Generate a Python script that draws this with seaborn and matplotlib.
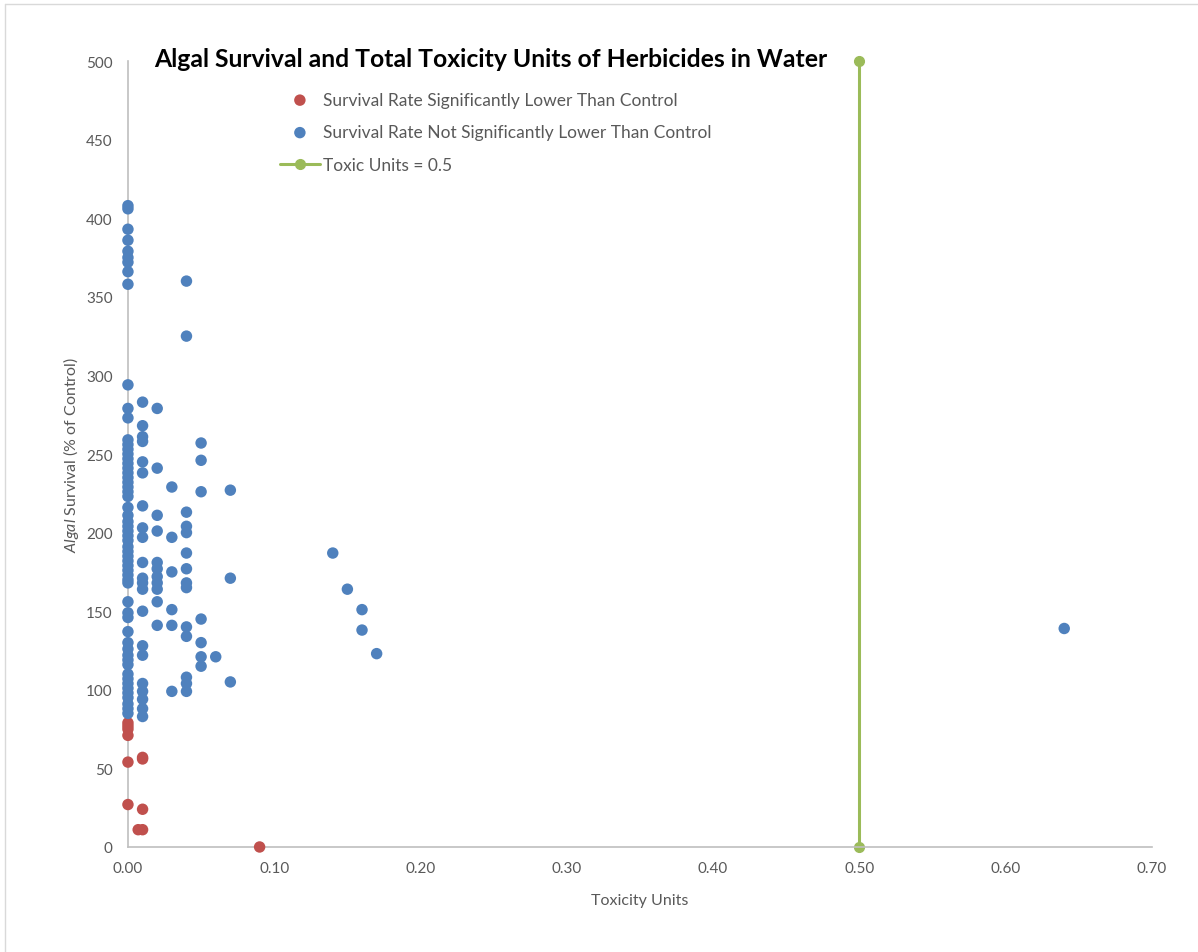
import numpy as np
import pandas as pd
import matplotlib
matplotlib.use("Agg")
import matplotlib.pyplot as plt
import seaborn as sns
from matplotlib.lines import Line2D

sns.set_theme(style="white")
plt.rcParams["font.family"] = ["Lato", "DejaVu Sans"]
plt.rcParams["mathtext.fontset"] = "custom"
plt.rcParams["mathtext.it"] = "Lato:italic"
plt.rcParams["mathtext.rm"] = "Lato"

# =============================
# DATA
# =============================

# significantly lower than control (red)
red_tu = [0.00, 0.00, 0.00, 0.00, 0.00, 0.00, 0.007, 0.01, 0.01, 0.01, 0.01, 0.09]
red_surv = [79, 77, 75, 71, 54, 27, 11, 57, 56, 24, 11, 0]

# not significantly lower than control (blue), one list per toxicity level
surv_tu000 = [408, 406, 393, 386, 379, 375, 372, 366, 358, 294, 279, 273,
              259, 256, 253, 250, 247, 244, 241, 238, 235, 232, 229, 226, 223,
              216, 211, 207, 204, 201, 198, 195, 191, 188, 185, 182, 179, 176,
              173, 170, 168, 156, 149, 146, 137, 130, 126, 122, 119, 116, 110,
              107, 104, 101, 98, 95, 91, 88, 85]
surv_tu001 = [283, 268, 261, 258, 245, 238, 217, 203, 197, 181, 171, 168,
              164, 150, 128, 122, 104, 99, 94, 88, 83]
surv_tu002 = [279, 241, 211, 201, 181, 177, 172, 168, 164, 156, 141]
surv_tu003 = [229, 197, 175, 151, 141, 99]
surv_tu004 = [360, 325, 213, 204, 200, 187, 177, 168, 165, 140, 134, 108, 104, 99]
surv_tu005 = [257, 246, 226, 145, 130, 121, 115]
surv_tu006 = [121]
surv_tu007 = [227, 171, 105]
other_tu = [0.14, 0.15, 0.16, 0.16, 0.17, 0.64]
other_surv = [187, 164, 151, 138, 123, 139]

blue_tu = ([0.00] * len(surv_tu000) + [0.01] * len(surv_tu001) +
           [0.02] * len(surv_tu002) + [0.03] * len(surv_tu003) +
           [0.04] * len(surv_tu004) + [0.05] * len(surv_tu005) +
           [0.06] * len(surv_tu006) + [0.07] * len(surv_tu007) + other_tu)
blue_surv = (surv_tu000 + surv_tu001 + surv_tu002 + surv_tu003 + surv_tu004 +
             surv_tu005 + surv_tu006 + surv_tu007 + other_surv)

line_tu = [0.5, 0.5]
line_surv = [0, 500]

red_df = pd.DataFrame({"tu": red_tu, "surv": red_surv})
blue_df = pd.DataFrame({"tu": blue_tu, "surv": blue_surv})

RED = "#C0504D"
BLUE = "#4F81BD"
GREEN = "#9BBB59"
GREY_TXT = "#595959"
GREY_AX = "#BFBFBF"

# =============================
# PLOT
# =============================

fig = plt.figure(figsize=(11.98, 9.53), dpi=100)
ax = fig.add_axes([0.1068, 0.1102, 0.8548, 0.8247])

sns.scatterplot(data=red_df, x="tu", y="surv", color=RED, s=68,
                edgecolor="none", ax=ax, zorder=3, clip_on=False,
                label="Survival Rate Significantly Lower Than Control")
sns.scatterplot(data=blue_df, x="tu", y="surv", color=BLUE, s=68,
                edgecolor="none", ax=ax, zorder=3, clip_on=False,
                label="Survival Rate Not Significantly Lower Than Control")
ax.plot(line_tu, line_surv, color=GREEN, linewidth=2.2, marker="o",
        markersize=7, zorder=2, clip_on=False, label="Toxic Units = 0.5")

ax.set_xlim(0, 0.70)
ax.set_ylim(0, 500)
ax.set_xticks(np.arange(0, 0.71, 0.1))
ax.set_xticklabels([f"{v:.2f}" for v in np.arange(0, 0.71, 0.1)])
ax.set_yticks(np.arange(0, 501, 50))

for side in ["top", "right"]:
    ax.spines[side].set_visible(False)
for side in ["left", "bottom"]:
    ax.spines[side].set_color(GREY_AX)
    ax.spines[side].set_linewidth(1.2)
ax.tick_params(axis="both", length=0, colors=GREY_TXT, labelsize=11)
ax.tick_params(axis="y", pad=11)
ax.tick_params(axis="x", pad=10)

ax.set_xlabel("Toxicity Units", color=GREY_TXT, fontsize=11.5)
ax.xaxis.set_label_coords(0.5, -0.058)
ax.set_ylabel(r"$\it{Algal}$ Survival (% of Control)", color=GREY_TXT, fontsize=11.5)
ax.yaxis.set_label_coords(-0.046, 0.5)

ax.text(0.3545, 1.003, "Algal Survival and Total Toxicity Units of Herbicides in Water",
        transform=ax.transAxes, ha="center", va="center",
        fontsize=17.8, fontweight="bold", color="black")

leg = ax.legend(loc="upper left", bbox_to_anchor=(0.1484, 0.961),
                frameon=False, fontsize=12.5, handlelength=2.3,
                handletextpad=0.17, labelspacing=0.95, borderpad=0,
                borderaxespad=0)
for t in leg.get_texts():
    t.set_color(GREY_TXT)

# outer border of the screenshot
fig.add_artist(Line2D([5 / 1198, 1], [1 - 5 / 953, 1 - 5 / 953],
                      transform=fig.transFigure, color="#D9D9D9", linewidth=1))
fig.add_artist(Line2D([5 / 1198, 5 / 1198], [0, 1 - 5 / 953],
                      transform=fig.transFigure, color="#D9D9D9", linewidth=1))

plt.savefig("out.png", dpi=100)
